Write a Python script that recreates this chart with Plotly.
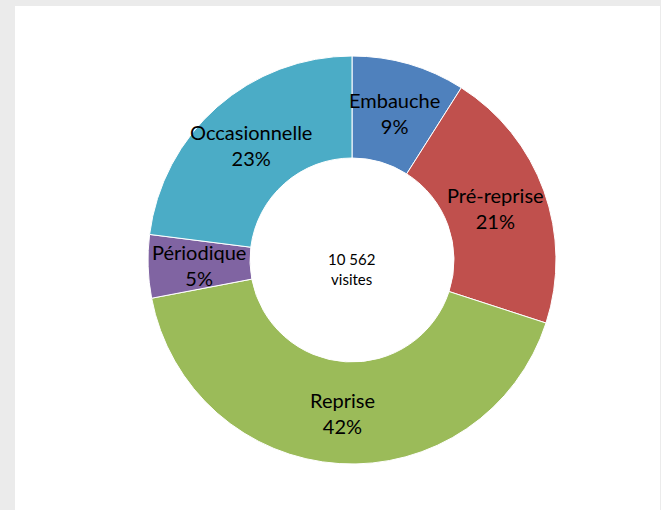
import math
import plotly.graph_objects as go

labels = ["Embauche", "Pré-reprise", "Reprise", "Périodique", "Occasionnelle"]
percents = [9, 21, 42, 5, 23]
colors = ["#4f81bd", "#c0504d", "#9bbb59", "#8064a2", "#4bacc6"]
center_text = "10 562<br>visites"

W, H = 661, 510
ML, MT, MR, MB = 15, 6, 1, 0
PW, PH = W - ML - MR, H - MT - MB

# pie geometry in pixels (center and outer radius)
cx, cy, R = 352, 260, 204
hole = 0.5

def px_to_paper(x, y):
    return (x - ML) / PW, 1 - (y - MT) / PH

x0, y1 = px_to_paper(cx - R, cy - R)
x1, y0 = px_to_paper(cx + R, cy + R)

fig = go.Figure(go.Pie(
    labels=labels,
    values=percents,
    marker=dict(colors=colors, line=dict(color="white", width=1)),
    hole=hole,
    sort=False,
    direction="clockwise",
    rotation=0,
    textinfo="none",
    hoverinfo="label+value",
    domain=dict(x=[x0, x1], y=[y0, y1]),
    showlegend=False,
))

annotations = []
total = sum(percents)
cum = 0
rmid = R * (1 + hole) / 2
for lab, v in zip(labels, percents):
    mid = (cum + v / 2) / total * 2 * math.pi
    cum += v
    px = cx + rmid * math.sin(mid)
    py = cy - rmid * math.cos(mid)
    ax, ay = px_to_paper(px, py)
    annotations.append(dict(
        x=ax, y=ay, xref="paper", yref="paper", showarrow=False,
        text=f"{lab}<br>{v}%", font=dict(family="Lato", size=20, color="#000000"),
        xanchor="center", yanchor="middle",
    ))

ax, ay = px_to_paper(cx, cy)
annotations.append(dict(
    x=ax, y=ay, xref="paper", yref="paper", showarrow=False, yshift=-9,
    text=center_text, font=dict(family="Lato", size=15, color="#000000"),
    xanchor="center", yanchor="middle",
))

fig.update_layout(
    width=W, height=H,
    margin=dict(l=ML, t=MT, r=MR, b=MB),
    paper_bgcolor="#ebebeb",
    plot_bgcolor="white",
    annotations=annotations,
    shapes=[dict(type="rect", xref="paper", yref="paper", x0=0, y0=0, x1=1, y1=1,
                 fillcolor="white", line=dict(width=0), layer="below")],
)

fig.write_html("out.html", config={"displayModeBar": False},
               post_script="document.body.style.margin='0';document.body.style.overflow='hidden';")
